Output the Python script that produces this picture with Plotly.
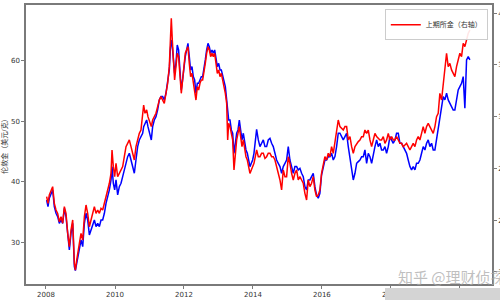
import pandas as pd
import plotly.graph_objects as go

# decimal years of each observation
years = [
    2008.019, 2008.058, 2008.096, 2008.154, 2008.193, 2008.241, 2008.290, 2008.338, 2008.386, 2008.435,
    2008.483, 2008.531, 2008.579, 2008.628, 2008.676, 2008.724, 2008.773, 2008.821, 2008.850, 2008.889,
    2008.927, 2008.966, 2009.014, 2009.063, 2009.111, 2009.159, 2009.207, 2009.256, 2009.304, 2009.352,
    2009.401, 2009.449, 2009.497, 2009.546, 2009.594, 2009.642, 2009.691, 2009.739, 2009.787, 2009.836,
    2009.884, 2009.913, 2009.951, 2009.990, 2010.029, 2010.077, 2010.125, 2010.174, 2010.222, 2010.270,
    2010.319, 2010.367, 2010.415, 2010.464, 2010.512, 2010.560, 2010.608, 2010.657, 2010.705, 2010.753,
    2010.802, 2010.831, 2010.869, 2010.918, 2010.956, 2011.014, 2011.053, 2011.092, 2011.140, 2011.188,
    2011.237, 2011.285, 2011.333, 2011.381, 2011.430, 2011.478, 2011.527, 2011.575, 2011.604, 2011.633,
    2011.662, 2011.691, 2011.729, 2011.768, 2011.806, 2011.845, 2011.884, 2011.923, 2011.961, 2012.000,
    2012.039, 2012.077, 2012.116, 2012.155, 2012.193, 2012.232, 2012.271, 2012.309, 2012.348, 2012.387,
    2012.425, 2012.464, 2012.502, 2012.541, 2012.580, 2012.618, 2012.657, 2012.696, 2012.734, 2012.773,
    2012.812, 2012.850, 2012.889, 2012.928, 2012.966, 2013.005, 2013.044, 2013.082, 2013.121, 2013.160,
    2013.198, 2013.237, 2013.266, 2013.295, 2013.333, 2013.372, 2013.411, 2013.449, 2013.488, 2013.527,
    2013.565, 2013.604, 2013.642, 2013.681, 2013.720, 2013.758, 2013.797, 2013.836, 2013.874, 2013.913,
    2013.952, 2013.990, 2014.029, 2014.068,
    2014.106, 2014.155, 2014.203, 2014.251, 2014.300, 2014.348, 2014.396, 2014.444, 2014.493, 2014.541,
    2014.589, 2014.638, 2014.686, 2014.734, 2014.783, 2014.831, 2014.879, 2014.928, 2014.976, 2015.024,
    2015.072, 2015.121, 2015.169, 2015.217, 2015.266, 2015.314, 2015.362, 2015.411, 2015.459, 2015.507,
    2015.556, 2015.604, 2015.652, 2015.700, 2015.749, 2015.797, 2015.845, 2015.894, 2015.942, 2015.990,
    2016.039, 2016.087, 2016.135, 2016.184, 2016.232, 2016.280, 2016.329, 2016.377, 2016.425, 2016.473,
    2016.522, 2016.570, 2016.618, 2016.667, 2016.715, 2016.763, 2016.812, 2016.860, 2016.908, 2016.957,
    2017.005, 2017.053, 2017.101, 2017.150, 2017.198, 2017.246, 2017.295, 2017.343, 2017.391, 2017.440,
    2017.488, 2017.536, 2017.585, 2017.633, 2017.681, 2017.729, 2017.778, 2017.826, 2017.874, 2017.923,
    2017.971, 2018.019, 2018.068, 2018.116, 2018.164, 2018.213, 2018.261, 2018.309, 2018.358, 2018.406,
    2018.454, 2018.502, 2018.551, 2018.599, 2018.647, 2018.696, 2018.744, 2018.792, 2018.841, 2018.889,
    2018.937, 2018.986, 2019.034, 2019.082, 2019.131, 2019.179, 2019.227, 2019.276, 2019.324, 2019.372,
    2019.420, 2019.469, 2019.517, 2019.565, 2019.614, 2019.662, 2019.710, 2019.759, 2019.807, 2019.855,
    2019.904, 2019.952, 2020.000, 2020.049, 2020.097, 2020.145, 2020.194, 2020.242, 2020.290,
]

# London gold, USD per gram (left axis)
london = [
    37.02, 35.93, 37.30, 38.12, 38.67, 35.93, 34.83, 34.28, 33.18, 33.73,
    33.18, 35.65, 34.28, 31.53, 28.79, 31.53, 33.18, 26.04, 25.38, 26.59,
    27.69, 29.06, 30.43, 29.34, 33.18, 34.83, 33.73, 31.26, 32.08, 33.18,
    33.73, 32.63, 33.18, 32.63, 33.73, 33.73, 34.83, 36.47, 37.57, 38.67,
    40.32, 42.52, 39.77, 38.67, 40.32, 37.85, 39.22, 39.77, 40.87, 41.97,
    43.06, 44.16, 44.71, 43.61, 42.52, 41.42, 43.61, 45.81, 46.91, 47.46,
    48.01, 49.10, 49.65, 50.20, 49.10, 48.01, 46.91, 49.10, 50.20, 50.75,
    51.85, 53.50, 54.05, 54.05, 53.50, 54.60, 56.24, 58.44, 61.73, 63.38,
    62.28, 60.09, 57.89, 59.54, 62.56, 61.73, 58.99, 55.14, 56.79, 58.99,
    60.63, 61.73, 62.83, 60.63, 58.44, 58.99, 57.34, 56.79, 54.60, 56.24,
    56.24, 56.79, 57.34, 57.34, 58.44, 60.09, 61.73, 62.83, 62.28, 61.18,
    61.73, 61.18, 61.73, 60.09, 58.99, 59.54, 58.44, 58.44, 57.34, 56.24,
    55.69, 53.50, 51.30, 50.20, 50.20, 48.56, 48.01, 44.71, 46.36, 48.01,
    48.56, 50.20, 48.56, 46.91, 48.01, 46.36, 45.26, 44.71, 43.61, 42.52,
    43.06, 43.61, 44.71, 46.91,
    48.66, 46.91, 45.81, 46.36, 46.91, 45.81, 45.81, 46.91, 47.18, 46.36,
    45.81, 44.71, 43.61, 43.06, 42.52, 41.42, 42.52, 43.06, 43.61, 45.81,
    43.61, 42.52, 41.42, 42.52, 42.52, 41.97, 42.24, 41.42, 40.87, 39.22,
    38.67, 40.32, 40.32, 40.87, 41.42, 39.22, 37.85, 37.30, 38.12, 41.14,
    42.52, 43.61, 43.61, 44.16, 44.16, 44.71, 43.61, 44.16, 45.81, 48.01,
    48.01, 47.46, 46.91, 47.46, 48.01, 45.81, 44.16, 42.52, 40.32, 41.42,
    43.06, 43.34, 43.61, 44.16, 44.16, 45.26, 43.06, 44.71, 44.16, 43.06,
    44.71, 45.81, 46.91, 45.81, 46.36, 45.26, 45.26, 45.81, 44.71, 45.81,
    47.46, 46.91, 46.36, 46.91, 48.01, 48.01, 46.36, 46.36, 45.81, 45.26,
    44.71, 43.61, 42.52, 41.97, 42.52, 41.97, 43.06, 43.06, 43.61, 44.71,
    45.81, 45.26, 46.36, 46.91, 45.81, 46.36, 45.26, 45.26, 46.91, 48.56,
    50.75, 51.85, 54.05, 53.50, 54.60, 53.50, 52.95, 52.40, 51.85, 51.85,
    53.50, 55.14, 55.69, 56.24, 57.34, 52.12, 60.09, 60.63, 60.09,
]

# Shanghai Futures Exchange gold, CNY per gram (right axis)
shfe = [
    222.7, 216.2, 224.3, 229.1, 232.3, 216.2, 209.8, 206.5, 198.5, 203.3,
    196.9, 213.0, 206.5, 187.2, 174.3, 190.4, 200.1, 158.2, 151.7, 161.4,
    167.9, 177.5, 187.2, 180.7, 203.3, 214.6, 206.5, 193.6, 200.1, 206.5,
    213.0, 206.5, 209.8, 206.5, 211.4, 209.8, 216.2, 222.7, 229.1, 235.6,
    245.2, 267.8, 251.7, 242.0, 254.9, 242.0, 245.2, 248.5, 251.7, 261.3,
    271.0, 274.2, 277.5, 271.0, 264.6, 258.1, 271.0, 277.5, 283.9, 287.1,
    306.5, 311.3, 303.3, 306.5, 300.0, 293.6, 290.4, 296.8, 300.0, 303.3,
    309.7, 316.1, 319.4, 316.1, 312.9, 322.6, 332.3, 348.4, 380.6, 395.1,
    374.2, 361.3, 335.5, 348.4, 361.3, 358.1, 338.7, 322.6, 335.5, 348.4,
    361.3, 364.5, 367.7, 351.6, 338.7, 341.9, 332.3, 325.8, 316.1, 329.0,
    325.8, 332.3, 335.5, 335.5, 341.9, 351.6, 361.3, 367.7, 364.5, 358.1,
    361.3, 358.1, 361.3, 351.6, 341.9, 345.2, 338.7, 341.9, 335.5, 325.8,
    322.6, 312.9, 277.5, 293.6, 290.4, 283.9, 277.5, 248.5, 267.8, 277.5,
    283.9, 290.4, 280.7, 271.0, 277.5, 267.8, 261.3, 258.1, 251.7, 245.2,
    248.5, 251.7, 254.9, 261.3,
    267.8, 261.3, 261.3, 264.6, 264.6, 259.7, 261.3, 264.6, 264.6, 261.3,
    261.3, 258.1, 251.7, 245.2, 238.8, 229.1, 248.5, 242.0, 242.0, 261.3,
    254.9, 245.2, 238.8, 245.2, 248.5, 238.8, 242.0, 238.8, 235.6, 225.9,
    219.4, 238.8, 232.3, 235.6, 242.0, 229.1, 222.7, 224.3, 229.1, 245.2,
    254.9, 261.3, 258.1, 264.6, 261.3, 271.0, 264.6, 274.2, 283.9, 296.8,
    290.4, 288.7, 287.1, 290.4, 290.4, 277.5, 280.7, 271.0, 264.6, 271.0,
    274.2, 275.9, 277.5, 280.7, 280.7, 287.1, 283.9, 287.1, 277.5, 271.0,
    277.5, 283.9, 280.7, 279.1, 277.5, 277.5, 280.7, 274.2, 277.5, 283.9,
    277.5, 280.7, 277.5, 277.5, 280.7, 277.5, 274.2, 274.2, 271.0, 272.6,
    274.2, 271.0, 267.8, 271.0, 274.2, 271.0, 277.5, 280.7, 277.5, 283.9,
    290.4, 283.9, 290.4, 293.6, 290.4, 287.1, 283.9, 290.4, 300.0, 303.3,
    322.6, 316.1, 332.3, 348.4, 361.3, 348.4, 351.6, 345.2, 341.9, 338.7,
    348.4, 354.8, 361.3, 358.1, 370.9, 367.7, 374.2, 380.6, 383.8,
]

left_ticks = [30, 40, 50, 60]
right_ticks = [150, 200, 250, 300, 350, 400]
legend_name = "上期所金（右轴）"
left_title = "伦敦金（美元/克）"
watermark = "知乎 @理财侦探"


def to_date(y):
    yr = int(y)
    start = pd.Timestamp(year=yr, month=1, day=1)
    end = pd.Timestamp(year=yr + 1, month=1, day=1)
    return start + (end - start) * (y - yr)


dates = [to_date(y) for y in years]

FONT = "DejaVu Sans, Noto Sans CJK SC, sans-serif"
AX = "#7a7a7a"

fig = go.Figure()
fig.add_trace(go.Scatter(x=dates, y=london, mode="lines", name="伦敦金",
                         line=dict(color="#0000ff", width=1.5), showlegend=False))
fig.add_trace(go.Scatter(x=dates, y=shfe, mode="lines", name=legend_name, yaxis="y2",
                         line=dict(color="#ff0000", width=1.5)))

fig.update_layout(
    width=500, height=300,
    margin=dict(l=26, r=8, t=5, b=16),
    paper_bgcolor="white", plot_bgcolor="white",
    font=dict(family=FONT, size=7, color="#333"),
    xaxis=dict(
        type="date", range=[to_date(2007.42), to_date(2020.93)],
        tick0="2008-01-01", dtick="M24", tickformat="%Y",
        showgrid=False, zeroline=False, automargin=False,
        showline=True, linecolor=AX, linewidth=1.5, mirror=True,
        ticks="outside", ticklen=3, tickcolor=AX, tickwidth=1,
        tickfont=dict(size=7, color="#333"),
    ),
    yaxis=dict(
        range=[23.18, 69.14], tickvals=left_ticks,
        showgrid=False, zeroline=False, automargin=False,
        showline=True, linecolor=AX, linewidth=1.5,
        ticks="outside", ticklen=3, tickcolor=AX, tickwidth=1,
        tickfont=dict(size=7, color="#333"),
        title=dict(text=left_title, font=dict(size=7, color="#333"), standoff=2),
    ),
    yaxis2=dict(
        range=[138.2, 408.0], tickvals=right_ticks,
        overlaying="y", side="right",
        showgrid=False, zeroline=False, automargin=False,
        showline=True, linecolor=AX, linewidth=1.5,
        ticks="outside", ticklen=3, tickcolor=AX, tickwidth=1,
        tickfont=dict(size=7, color="#333"),
    ),
    legend=dict(
        x=0.991, y=0.985, xanchor="right", yanchor="top",
        bgcolor="rgba(255,255,255,0.9)", bordercolor="#cccccc", borderwidth=1,
        font=dict(size=7, color="#333"), itemwidth=30,
    ),
    showlegend=True,
)

fig.add_shape(type="rect", xref="paper", yref="paper",
              x0=(385 - 26) / 466, x1=1.1, y0=-16 / 279 - 0.01, y1=-4 / 279,
              fillcolor="#d4d4d4", line=dict(width=0), layer="above")

fig.add_annotation(text=watermark, xref="paper", yref="paper",
                   x=(396 - 26) / 466, y=(284 - 276) / 279, xanchor="left", yanchor="middle",
                   showarrow=False,
                   font=dict(family="Noto Sans CJK SC", size=15, color="rgba(170,170,170,0.75)"))

fig.write_html("out.html")
